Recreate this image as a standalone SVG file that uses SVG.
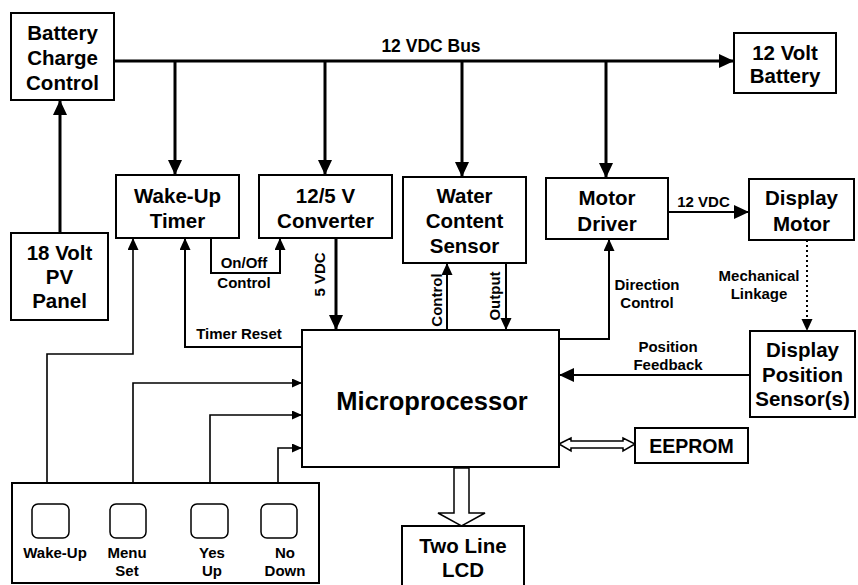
<svg xmlns="http://www.w3.org/2000/svg" width="858" height="585" viewBox="0 0 858 585">
<style>
.box{fill:#fff;stroke:#000;stroke-width:2}
.key{fill:#fff;stroke:#000;stroke-width:1.5}
.t{font-family:"Liberation Sans",Arial,sans-serif;font-weight:bold;fill:#000;text-anchor:middle}
.n{font-size:20.5px}
.s{font-size:15px}
.w{fill:none;stroke:#000}
.thick{stroke-width:3}
.med{stroke-width:2}
.thin{stroke-width:1.6}
.hollow{fill:#fff;stroke:#000;stroke-width:1.5}
</style>
<defs>
<marker id="big" markerUnits="userSpaceOnUse" markerWidth="16" markerHeight="15" refX="15" refY="7" orient="auto"><path d="M0,0 L15,7 L0,14 z" fill="#000"/></marker>
<marker id="mid" markerUnits="userSpaceOnUse" markerWidth="13" markerHeight="12" refX="12" refY="5.5" orient="auto"><path d="M0,0 L12,5.5 L0,11 z" fill="#000"/></marker>
<marker id="sm" markerUnits="userSpaceOnUse" markerWidth="11" markerHeight="10" refX="10" refY="4.5" orient="auto"><path d="M0,0 L10,4.5 L0,9 z" fill="#000"/></marker>
</defs>
<rect width="858" height="585" fill="#fff"/>

<g id="connectors">
<path class="w thick" d="M114,61 H734" marker-end="url(#big)"/>
<path class="w thick" d="M175,61 V175" marker-end="url(#big)"/>
<path class="w thick" d="M325,61 V175" marker-end="url(#big)"/>
<path class="w thick" d="M462,61 V177" marker-end="url(#big)"/>
<path class="w thick" d="M606,61 V178" marker-end="url(#big)"/>
<path class="w thick" d="M60,233 V100" marker-end="url(#big)"/>
<path class="w thick" d="M336,238 V330" marker-end="url(#big)"/>
<path class="w med" d="M211,238 V273 H280 V238" marker-end="url(#mid)"/>
<path class="w med" d="M302,347 H185 V238" marker-end="url(#mid)"/>
<path class="w med" d="M447,330 V263" marker-end="url(#mid)"/>
<path class="w med" d="M506,263 V330" marker-end="url(#mid)"/>
<path class="w med" d="M559,339 H609 V239" marker-end="url(#mid)"/>
<path class="w med" d="M668,212 H749" marker-end="url(#big)"/>
<path class="w med" d="M750,375 H559" marker-end="url(#big)"/>
<path class="w med" d="M807,240 V331" stroke-dasharray="2,3" marker-end="url(#mid)"/>
<path class="w thin" d="M47,483 V354 H133 V238" marker-end="url(#mid)"/>
<path class="w thin" d="M133,483 V383 H302" marker-end="url(#sm)"/>
<path class="w thin" d="M210,483 V415 H302" marker-end="url(#sm)"/>
<path class="w thin" d="M278,483 V448 H302" marker-end="url(#sm)"/>
<polygon class="hollow" points="559,444 571,438 571,441 623,441 623,438 635,444 623,451 623,448 571,448 571,451"/>
<polygon class="hollow" points="454,468 469,468 469,513 485,513 461.5,526 438,513 454,513"/>
<text class="t" x="431" y="52" style="font-size:17.5px">12 VDC Bus</text>
<text class="t s" x="244" y="268">On/Off</text>
<text class="t s" x="244" y="288">Control</text>
<text class="t s" x="239" y="339">Timer Reset</text>
<text class="t s" transform="translate(325,274.5) rotate(-90)">5 VDC</text>
<text class="t s" transform="translate(442,300) rotate(-90)">Control</text>
<text class="t s" transform="translate(499.5,296) rotate(-90)">Output</text>
<text class="t s" x="647" y="290">Direction</text>
<text class="t s" x="647" y="308">Control</text>
<text class="t s" x="703.5" y="207">12 VDC</text>
<text class="t s" x="759" y="281">Mechanical</text>
<text class="t s" x="759" y="299">Linkage</text>
<text class="t s" x="668" y="352">Position</text>
<text class="t s" x="668" y="370">Feedback</text>
</g>

<g id="battery-charge-control">
<rect class="box" x="11" y="13" width="103" height="87"/>
<text class="t n" x="62.5" y="40">Battery</text>
<text class="t n" x="62.5" y="65">Charge</text>
<text class="t n" x="62.5" y="90">Control</text>
</g>
<g id="battery-12v">
<rect class="box" x="734" y="33" width="102" height="60"/>
<text class="t n" x="785" y="60">12 Volt</text>
<text class="t n" x="785" y="83">Battery</text>
</g>
<g id="pv-panel">
<rect class="box" x="11" y="233" width="97" height="87"/>
<text class="t n" x="59.5" y="260">18 Volt</text>
<text class="t n" x="59.5" y="284">PV</text>
<text class="t n" x="59.5" y="308">Panel</text>
</g>
<g id="wake-up-timer">
<rect class="box" x="116" y="175" width="123" height="63"/>
<text class="t n" x="177.5" y="203">Wake-Up</text>
<text class="t n" x="177.5" y="228">Timer</text>
</g>
<g id="converter">
<rect class="box" x="259" y="175" width="133" height="63"/>
<text class="t n" x="325.5" y="203">12/5 V</text>
<text class="t n" x="325.5" y="228">Converter</text>
</g>
<g id="water-content-sensor">
<rect class="box" x="403" y="177" width="123" height="86"/>
<text class="t n" x="464.5" y="203">Water</text>
<text class="t n" x="464.5" y="228">Content</text>
<text class="t n" x="464.5" y="253">Sensor</text>
</g>
<g id="motor-driver">
<rect class="box" x="546" y="178" width="122" height="61"/>
<text class="t n" x="607" y="205">Motor</text>
<text class="t n" x="607" y="231">Driver</text>
</g>
<g id="display-motor">
<rect class="box" x="749" y="179" width="105" height="61"/>
<text class="t n" x="801.5" y="205">Display</text>
<text class="t n" x="801.5" y="231">Motor</text>
</g>
<g id="display-position-sensor">
<rect class="box" x="750" y="331" width="105" height="86"/>
<text class="t n" x="802.5" y="357">Display</text>
<text class="t n" x="802.5" y="382">Position</text>
<text class="t n" x="802.5" y="406">Sensor(s)</text>
</g>
<g id="microprocessor">
<rect class="box" x="302" y="330" width="257" height="137"/>
<text class="t" x="432" y="410" style="font-size:25.5px">Microprocessor</text>
</g>
<g id="eeprom">
<rect class="box" x="635" y="428" width="113" height="35"/>
<text class="t" x="691.5" y="453" style="font-size:19.5px">EEPROM</text>
</g>
<g id="lcd">
<rect class="box" x="402" y="526" width="122" height="66"/>
<text class="t n" x="463" y="553">Two Line</text>
<text class="t n" x="463" y="577">LCD</text>
</g>
<g id="keypad">
<rect class="box" x="12" y="483" width="307" height="100"/>
<rect class="key" x="32" y="504" width="37" height="34" rx="6"/>
<rect class="key" x="110" y="504" width="36" height="34" rx="6"/>
<rect class="key" x="191" y="504" width="37" height="34" rx="6"/>
<rect class="key" x="261" y="504" width="36" height="34" rx="6"/>
<text class="t s" x="55" y="558">Wake-Up</text>
<text class="t s" x="127" y="558">Menu</text>
<text class="t s" x="127" y="576">Set</text>
<text class="t s" x="212" y="558">Yes</text>
<text class="t s" x="212" y="576">Up</text>
<text class="t s" x="285" y="558">No</text>
<text class="t s" x="285" y="576">Down</text>
</g>
</svg>
